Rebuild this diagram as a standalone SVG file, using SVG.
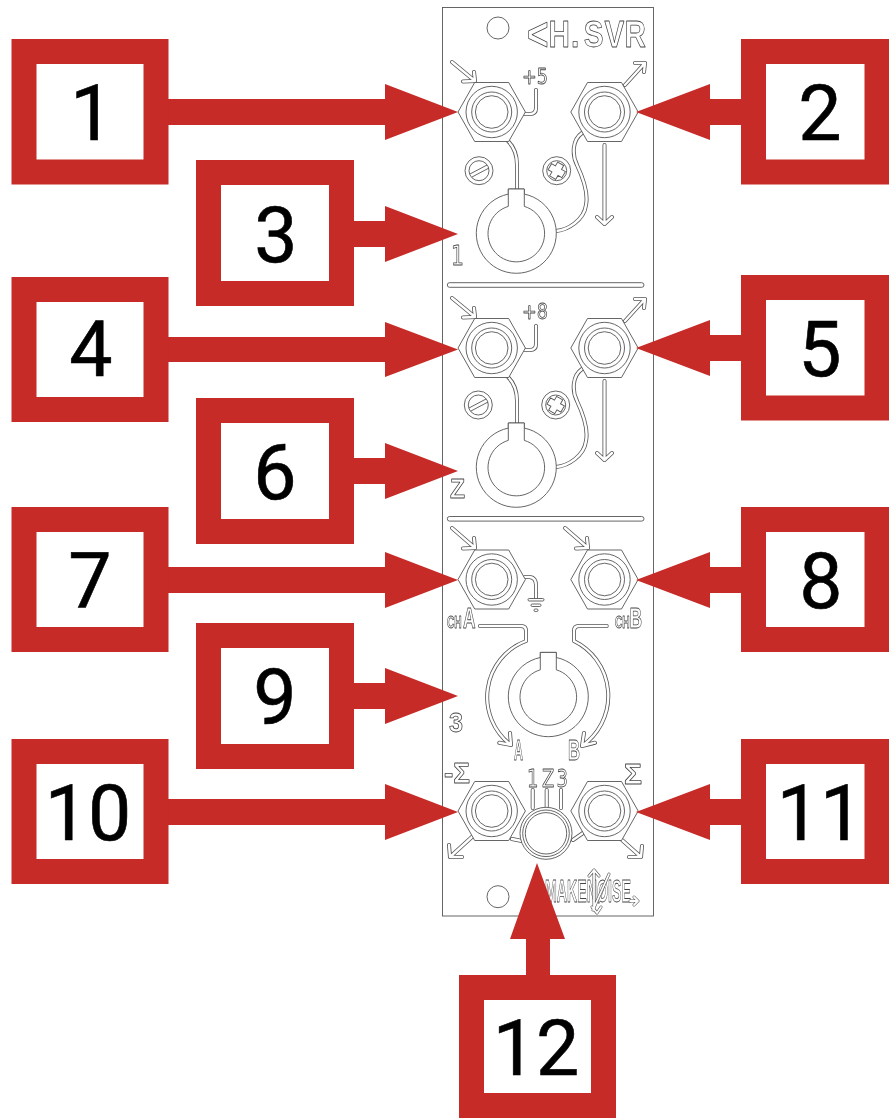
<svg xmlns="http://www.w3.org/2000/svg" width="889" height="1118" viewBox="0 0 889 1118">
<style>
.box{fill:#fff;stroke:#c62b27;stroke-width:25}
.num{font-family:Roboto,"Open Sans",sans-serif;font-size:77px;font-weight:400;fill:#000;stroke:#000;stroke-width:.6;text-anchor:middle}
.arr{fill:#c62b27}
.l{fill:none;stroke:#555;stroke-width:.9}
.w{fill:#fff;stroke:#555;stroke-width:.9}
.o{fill:none;stroke:#555;stroke-width:4;stroke-linecap:round;stroke-linejoin:round}
.i{fill:none;stroke:#fff;stroke-width:2.4;stroke-linecap:round;stroke-linejoin:round}
.t{font-family:"Liberation Sans",sans-serif;font-weight:700;fill:none;stroke:#444;stroke-width:.8;stroke-linejoin:round;filter:url(#g)}
.d{font-family:"DejaVu Sans",sans-serif;font-weight:400}
</style>
<defs>
<filter id="g" x="-30%" y="-30%" width="160%" height="160%"><feOffset dx="0" dy="0"/></filter>
<g id="jack"><path class="w" d="M-33.7,0L-17,-29.5H17L33.7,0L17,29.5H-17Z"/><circle class="l" r="25.700"/><circle class="l" r="20"/><circle class="l" r="16.300"/></g>
<path id="s1" d="M452,62L475,81M463,81.500L475,81L474,72M525,114H530Q536,114 536,108V90M508,141Q517,150 517,165V189M582,133C572,140 572,155 577,165C585,182 588,195 586,205C584,220 568,230 556,231M625,85L645,63M635,63H645L644,72M604.500,145V223M597,217L604.500,224L612,217"/>
<path id="in" d="M452,528L475,548M463,548.500L475,548L474,538"/>
<path id="cross" d="M-3.500,-8H3.500V-3.500H8V3.500H3.500V8H-3.500V3.500H-8V-3.500H-3.500Z" transform="rotate(30)"/>
<g id="pot"><path class="w" d="M-8,-44.300V-39.200A40,40 0 1 0 8,-39.200V-44.300Z"/><path class="w" d="M-8,-44.300H8V-26.900A28.300,28.300 0 1 1 -8,-26.900Z"/></g>
</defs>
<g id="panel">
<rect class="w" x="442.500" y="7.500" width="211" height="908.500"/>
<circle class="l" cx="498" cy="28" r="11"/>
<circle class="l" cx="498" cy="896.700" r="11"/>
<text class="t" transform="translate(527,47) scale(.8,1)" font-size="37" x="0 27 55 71 97 122"><tspan font-size="46" dy="3">&lt;</tspan><tspan dy="-3">H.SVR</tspan></text>
<rect class="w" x="447.300" y="282.700" width="196.700" height="4.600" rx="2.300"/>
<rect class="w" x="447.300" y="516.500" width="196.700" height="4.600" rx="2.300"/>
</g>
<g id="section-1">
<use href="#s1" class="o"/><use href="#s1" class="i"/>
<use href="#jack" x="491.700" y="112"/><use href="#jack" x="604.500" y="112"/>
<use href="#pot" x="516.300" y="233.300"/>
<circle class="l" cx="479" cy="170.700" r="14"/><circle class="l" cx="479" cy="170.700" r="10"/><path class="l" d="M470,174L487,165M472,177L489,168"/>
<circle class="l" cx="556.700" cy="170.700" r="14"/><circle class="l" cx="556.700" cy="170.700" r="10"/><use href="#cross" class="l" x="556.700" y="170.700"/>
<text class="t d" x="522" y="84" font-size="21" textLength="26" lengthAdjust="spacingAndGlyphs">+5</text>
<text class="t d" x="451" y="265" font-size="27" textLength="13" lengthAdjust="spacingAndGlyphs">1</text>
</g>
<g id="section-2">
<g transform="translate(0,236)"><use href="#s1" class="o"/><use href="#s1" class="i"/></g>
<use href="#jack" x="491.700" y="348"/><use href="#jack" x="604.500" y="348"/>
<use href="#pot" x="516.300" y="467.300"/>
<circle class="l" cx="478.300" cy="405" r="14"/><circle class="l" cx="478.300" cy="405" r="10"/><path class="l" d="M469,408L486,399M471,411L488,402"/>
<circle class="l" cx="555.700" cy="405" r="14"/><circle class="l" cx="555.700" cy="405" r="10"/><use href="#cross" class="l" x="555.700" y="405"/>
<text class="t d" x="522" y="319" font-size="21" textLength="26" lengthAdjust="spacingAndGlyphs">+8</text>
<text class="t" x="450" y="498" font-size="27" textLength="15" lengthAdjust="spacingAndGlyphs">Z</text>
</g>
<g id="section-3">
<use href="#in" class="o"/><use href="#in" class="i"/>
<g transform="translate(113,0)"><use href="#in" class="o"/><use href="#in" class="i"/></g>
<path class="o" d="M525,577H530Q536,578 536,585V598M480,626H521Q526,626 526,631V641A60,60 0 0 0 511,745M499.300,742.700L511,745L510,733M606.700,626H579Q574,626 574,631V641A61,61 0 0 1 582,746M595,742.700L582,746L584,733"/>
<path class="i" d="M525,577H530Q536,578 536,585V598M480,626H521Q526,626 526,631V641A60,60 0 0 0 511,745M499.300,742.700L511,745L510,733M606.700,626H579Q574,626 574,631V641A61,61 0 0 1 582,746M595,742.700L582,746L584,733"/>
<use href="#jack" x="491.700" y="579.500"/><use href="#jack" x="604.500" y="579.500"/>
<use href="#pot" x="548.300" y="696.700"/>
<rect class="w" x="528" y="598.500" width="16" height="2.500" rx="1.200"/><rect class="w" x="531" y="604" width="10" height="2.500" rx="1.200"/><rect class="w" x="534" y="609" width="4" height="2.500" rx="1.200"/>
<text class="t" transform="translate(447,627.500) scale(.6,1)" stroke-width=".7"><tspan x="0" font-size="17">CH</tspan><tspan x="26.700" font-size="29">A</tspan></text>
<text class="t" transform="translate(615,627.500) scale(.6,1)" stroke-width=".7"><tspan x="0" font-size="17">CH</tspan><tspan x="24" font-size="29">B</tspan></text>
<text class="t" x="514" y="760" font-size="29" textLength="9" lengthAdjust="spacingAndGlyphs">A</text>
<text class="t" x="568" y="760" font-size="29" textLength="12" lengthAdjust="spacingAndGlyphs">B</text>
<text class="t" x="449" y="732" font-size="27" textLength="14" lengthAdjust="spacingAndGlyphs">3</text>
</g>
<g id="section-4">
<path class="o" d="M473,836L450,857M449,845L450,857L462,857M622,840L641,857M629,857L641,857L642,846M532.700,790V808M546.700,790V807M561,790V808M512,839L522,841M573,840L583,833"/>
<path class="i" d="M473,836L450,857M449,845L450,857L462,857M622,840L641,857M629,857L641,857L642,846M532.700,790V808M546.700,790V807M561,790V808M512,839L522,841M573,840L583,833"/>
<use href="#jack" x="491.700" y="811"/><use href="#jack" x="604.500" y="811"/>
<circle class="w" cx="546" cy="833.300" r="26"/><circle class="l" cx="546" cy="833.300" r="23.300"/><circle class="l" cx="546" cy="833.300" r="20.700"/>
<text class="t" x="444" y="783" font-size="30" textLength="26" lengthAdjust="spacingAndGlyphs">-Σ</text>
<text class="t" x="624" y="784" font-size="30" textLength="18" lengthAdjust="spacingAndGlyphs">Σ</text>
<text class="t d" transform="translate(527,787) scale(.72,1)" font-size="25" x="0 21 41">1Z3</text>
<text class="t" x="545" y="902" font-size="32" textLength="86" lengthAdjust="spacingAndGlyphs" stroke-width=".7">MAKENØISE</text>
<path class="o" d="M594,870V909M589,876L594,870L599,876M609,874L593,910M630,901H638M634,897L638,901L634,905M592,907L597,913L601,907" style="stroke-width:3"/>
<path class="i" d="M594,870V909M589,876L594,870L599,876M609,874L593,910M630,901H638M634,897L638,901L634,905M592,907L597,913L601,907" style="stroke-width:1.800"/>
</g>
<g id="connectors">
<path class="arr" d="M168,99H385V84L458,112L385,140V125H168Z"/>
<path class="arr" d="M741,99H710V84L636,112L710,140V125H741Z"/>
<path class="arr" d="M354,221H385V206L458,234L385,262V247H354Z"/>
<path class="arr" d="M168,337H385V322L458,349.500L385,377V362H168Z"/>
<path class="arr" d="M741,335H710V320L636,348L710,376V361H741Z"/>
<path class="arr" d="M354,458H385V443L458,471L385,499V484H354Z"/>
<path class="arr" d="M168,567H385V552L458,580L385,608V593H168Z"/>
<path class="arr" d="M741,567H710V552L636,580L710,608V593H741Z"/>
<path class="arr" d="M354,683H385V668L458,696L385,724V709H354Z"/>
<path class="arr" d="M168,799H385V784L458,812L385,840V825H168Z"/>
<path class="arr" d="M741,799H710V784L636,812L710,840V825H741Z"/>
<path class="arr" d="M526,975V939H510L537,863L565,939H550V975Z"/>
</g>
<g id="n1"><rect class="box" x="24" y="51.500" width="132" height="120.500"/><text class="num" x="92" y="140">1</text></g>
<g id="n2"><rect class="box" x="753.500" y="51.500" width="123.500" height="120.500"/><text class="num" x="820" y="140">2</text></g>
<g id="n3"><rect class="box" x="208.500" y="172.500" width="133" height="121"/><text class="num" x="276" y="262">3</text></g>
<g id="n4"><rect class="box" x="24" y="289.500" width="132" height="120"/><text class="num" x="91" y="376">4</text></g>
<g id="n5"><rect class="box" x="753.500" y="287.500" width="123.500" height="120.500"/><text class="num" x="820" y="376">5</text></g>
<g id="n6"><rect class="box" x="208.500" y="410.500" width="133" height="121"/><text class="num" x="275" y="499">6</text></g>
<g id="n7"><rect class="box" x="24" y="519.500" width="132" height="120"/><text class="num" x="90" y="608">7</text></g>
<g id="n8"><rect class="box" x="753.500" y="519.500" width="123.500" height="120"/><text class="num" x="821" y="608">8</text></g>
<g id="n9"><rect class="box" x="208.500" y="635.500" width="133" height="121"/><text class="num" x="275" y="724">9</text></g>
<g id="n10"><rect class="box" x="24" y="751.500" width="132" height="120"/><text class="num" x="88" y="840">10</text></g>
<g id="n11"><rect class="box" x="753.500" y="751.500" width="123.500" height="120"/><text class="num" x="820" y="840">11</text></g>
<g id="n12"><rect class="box" x="471.500" y="987.500" width="132" height="118"/><text class="num" x="536" y="1075">12</text></g>
</svg>
